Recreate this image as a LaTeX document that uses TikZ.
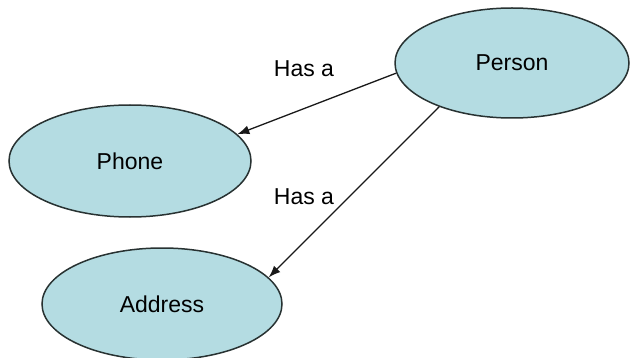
\documentclass[tikz,border=0pt]{standalone}
\usepackage{fontspec}
\setmainfont{Liberation Sans}
\usetikzlibrary{shapes.geometric,arrows.meta}
\definecolor{entfill}{RGB}{180,220,226}
\definecolor{entline}{RGB}{40,50,50}
\tikzset{
  entity/.style={ellipse, draw=entline, line width=1.5pt, fill=entfill, inner sep=0pt,
    font=\fontsize{23}{26}\selectfont},
  rel/.style={draw=black!90, line width=1.3pt, -{Latex[length=12pt,width=9pt]}},
  lbl/.style={font=\fontsize{23}{26}\selectfont, inner sep=0pt}
}
\begin{document}
\begin{tikzpicture}[x=1pt,y=-1pt]
\useasboundingbox[fill=white] (0,0) rectangle (631,358);
\node[entity, minimum width=234pt, minimum height=110pt] (person) at (512,63) {Person};
\node[entity, minimum width=242pt, minimum height=112pt] (phone) at (130,161) {Phone};
\node[entity, minimum width=240pt, minimum height=112pt] (address) at (162,304) {Address};
\draw[rel] (person.185) -- (phone.14);
\draw[rel] (person.211) -- (address.14);
\node[lbl] (l1) at (304,69) {Has a};
\node[lbl] (l2) at (304,197) {Has a};
\end{tikzpicture}
\end{document}
